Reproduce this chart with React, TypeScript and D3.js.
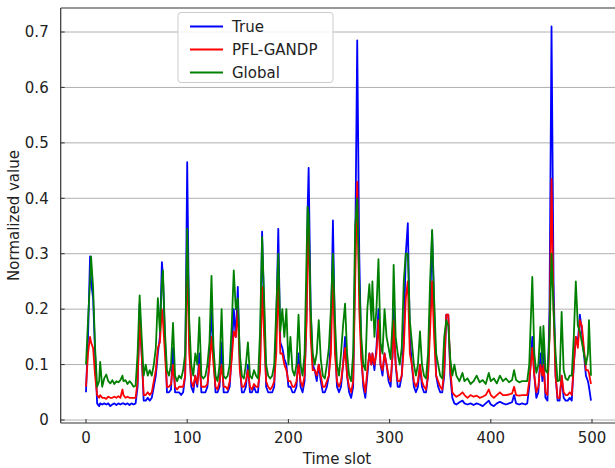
import React from 'react';
import * as d3 from 'd3';

const slots = [
  0, 2, 4, 5, 7, 9, 11, 13, 14, 16,
  18, 20, 22, 24, 26, 28, 30, 32, 34, 36,
  37, 39, 41, 43, 45, 47, 49, 51, 53, 55,
  57, 59, 61, 63, 65, 67, 69, 71, 73, 75,
  76, 78, 80, 82, 84, 86, 88, 90, 92, 94,
  96, 98, 100, 102, 104, 106, 108, 110, 112, 114,
  116, 118, 120, 122, 124, 126, 128, 130, 132, 134,
  136, 138, 140, 142, 144, 146, 148, 150, 152, 154,
  156, 158, 160, 162, 164, 166, 168, 170, 172, 174,
  176, 178, 180, 182, 184, 186, 188, 190, 192, 194,
  196, 198, 200, 202, 204, 206, 208, 210, 212, 214,
  216, 218, 219, 220, 222, 224, 226, 228, 230, 232,
  234, 236, 238, 240, 242, 244, 246, 248, 250, 252,
  254, 256, 258, 260, 262, 264, 266, 268, 270, 272,
  274, 276, 278, 280, 282, 283, 285, 287, 289, 291,
  293, 295, 297, 299, 301, 303, 304, 306, 308, 310,
  312, 314, 316, 318, 320, 322, 324, 326, 328, 330,
  332, 334, 336, 338, 340, 342, 344, 346, 348, 350,
  352, 354, 356, 358, 360, 362, 364, 366, 369, 372,
  374, 377, 380, 383, 386, 389, 392, 395, 398, 400,
  403, 406, 409, 412, 415, 418, 421, 423, 425, 428,
  431, 434, 436, 438, 441, 443, 445, 447, 449, 451,
  452, 454, 456, 458, 460, 462, 464, 466, 468, 470,
  472, 474, 476, 478, 480, 482, 484, 486, 488, 490,
  492, 494, 496, 497, 499,
];

const trueVals = [
  .05, .15, .295, .25, .22, .12, .03, .025, .03, .028,
  .03, .028, .03, .025, .028, .03, .027, .03, .028, .03,
  .03, .028, .03, .027, .03, .028, .03, .06, .21, .12,
  .035, .035, .04, .035, .04, .06, .08, .12, .15, .285,
  .26, .15, .05, .05, .055, .13, .05, .05, .05, .045,
  .05, .08, .465, .15, .06, .05, .08, .06, .12, .05,
  .05, .05, .06, .11, .2, .12, .05, .05, .06, .14,
  .05, .05, .05, .06, .12, .2, .15, .24, .1, .05,
  .05, .06, .1, .05, .05, .06, .05, .05, .1, .34,
  .2, .06, .05, .05, .05, .06, .17, .345, .14, .13,
  .11, .1, .06, .06, .05, .05, .06, .12, .06, .05,
  .07, .2, .38, .455, .2, .1, .09, .07, .1, .07,
  .05, .05, .06, .08, .15, .36, .15, .06, .05, .06,
  .1, .15, .08, .05, .04, .06, .3, .685, .3, .12,
  .06, .04, .08, .12, .1, .12, .09, .13, .2, .1,
  .08, .12, .1, .07, .06, .12, .2, .1, .06, .06,
  .08, .15, .3, .355, .15, .1, .06, .05, .06, .1,
  .06, .05, .05, .08, .2, .34, .2, .08, .06, .05,
  .05, .08, .19, .19, .08, .04, .03, .028, .032, .035,
  .03, .028, .03, .027, .03, .028, .025, .03, .035, .028,
  .025, .03, .033, .03, .028, .03, .032, .045, .03, .028,
  .03, .028, .03, .06, .15, .08, .04, .05, .12, .07,
  .12, .04, .035, .2, .71, .25, .08, .035, .035, .08,
  .04, .035, .035, .04, .035, .1, .15, .14, .19, .16,
  .12, .08, .07, .06, .035,
];

const pflVals = [
  .06, .12, .15, .14, .13, .08, .045, .04, .045, .04,
  .04, .038, .042, .04, .04, .042, .04, .043, .04, .055,
  .045, .04, .042, .04, .04, .04, .04, .07, .18, .12,
  .045, .045, .05, .045, .05, .07, .09, .13, .14, .2,
  .18, .12, .06, .06, .065, .1, .06, .055, .06, .06,
  .06, .08, .3, .12, .07, .06, .08, .065, .1, .06,
  .06, .06, .065, .1, .15, .1, .06, .055, .07, .1,
  .06, .06, .055, .07, .11, .16, .15, .2, .09, .06,
  .06, .07, .09, .06, .055, .065, .06, .06, .09, .24,
  .15, .07, .06, .055, .06, .07, .12, .25, .12, .12,
  .1, .09, .07, .07, .06, .06, .07, .1, .07, .06,
  .08, .18, .3, .35, .15, .09, .09, .08, .1, .08,
  .06, .06, .07, .08, .12, .27, .12, .07, .06, .07,
  .1, .13, .08, .06, .05, .07, .25, .43, .2, .11,
  .07, .05, .09, .12, .1, .12, .1, .12, .18, .1,
  .09, .12, .1, .08, .07, .12, .18, .1, .07, .07,
  .08, .13, .22, .25, .12, .1, .07, .06, .07, .1,
  .07, .06, .055, .08, .16, .25, .15, .08, .07, .06,
  .055, .09, .19, .19, .09, .05, .045, .042, .045, .05,
  .045, .04, .045, .042, .044, .04, .042, .045, .055, .045,
  .04, .045, .05, .045, .045, .046, .048, .06, .045, .044,
  .045, .045, .045, .07, .13, .08, .05, .06, .1, .08,
  .1, .05, .045, .15, .435, .2, .08, .04, .04, .08,
  .05, .045, .045, .05, .045, .1, .15, .13, .18, .17,
  .13, .09, .09, .085, .065,
];

const globalVals = [
  .1, .18, .25, .295, .24, .13, .06, .07, .105, .06,
  .075, .082, .07, .066, .072, .065, .07, .068, .072, .08,
  .07, .072, .065, .07, .066, .06, .062, .12, .225, .15,
  .08, .1, .08, .09, .08, .1, .13, .22, .16, .25,
  .27, .16, .09, .08, .1, .175, .08, .07, .08, .075,
  .09, .12, .345, .18, .1, .08, .12, .1, .185, .08,
  .075, .08, .1, .14, .26, .13, .08, .07, .1, .2,
  .08, .075, .08, .1, .17, .27, .2, .22, .12, .08,
  .075, .1, .14, .08, .075, .09, .08, .075, .16, .33,
  .22, .1, .08, .075, .08, .1, .2, .3, .16, .2,
  .15, .2, .1, .15, .09, .08, .1, .19, .1, .08,
  .12, .3, .385, .37, .2, .12, .1, .12, .18, .11,
  .08, .075, .1, .13, .2, .3, .18, .1, .08, .12,
  .17, .21, .12, .08, .07, .12, .35, .4, .25, .15,
  .1, .09, .2, .245, .18, .25, .15, .2, .29, .14,
  .12, .2, .15, .13, .11, .18, .28, .15, .12, .1,
  .13, .25, .3, .3, .18, .14, .1, .08, .1, .16,
  .1, .08, .075, .12, .25, .343, .22, .12, .1, .08,
  .075, .15, .18, .17, .11, .08, .1, .08, .07, .085,
  .07, .075, .065, .07, .08, .068, .072, .065, .085, .07,
  .075, .066, .08, .07, .075, .068, .072, .09, .072, .068,
  .07, .07, .07, .1, .258, .12, .085, .1, .168, .1,
  .17, .09, .085, .15, .3, .2, .12, .07, .072, .195,
  .09, .075, .072, .08, .08, .15, .25, .17, .16, .14,
  .12, .1, .12, .18, .08,
];

const seriesNames = ['True', 'PFL-GANDP', 'Global'];
const seriesColors = ['#0000ff', '#ff0000', '#008000'];
const xTicks = [0, 100, 200, 300, 400, 500];
const yTicks = [0, 0.1, 0.2, 0.3, 0.4, 0.5, 0.6, 0.7];

const width = 615;
const height = 468;
const plot = { left: 60.7, top: 8, right: 617.3, bottom: 423 };
const font = '"DejaVu Sans", sans-serif';

const App = () => {
  const x = d3.scaleLinear().domain([-25, 525]).range([plot.left, plot.right]);
  const y = d3.scaleLinear().domain([-0.0054, 0.7433]).range([plot.bottom, plot.top]);

  const series = [trueVals, pflVals, globalVals];
  const line = d3
    .line<number>()
    .x((_, i) => x(slots[i]))
    .y(d => y(d));

  const lx = 178;
  const ly = 12.5;

  return (
    <svg
      width={width}
      height={height}
      style={{ position: 'absolute', left: 0, top: 0, background: '#fff' }}
      fontFamily={font}
    >
      <defs>
        <clipPath id="plot-clip">
          <rect x={plot.left} y={plot.top} width={plot.right - plot.left} height={plot.bottom - plot.top} />
        </clipPath>
      </defs>

      {/* horizontal grid */}
      {yTicks.map(t => (
        <line key={'g' + t} x1={plot.left} x2={plot.right} y1={y(t)} y2={y(t)} stroke="#b0b0b0" strokeWidth={1} />
      ))}

      {/* series, green on top */}
      <g clipPath="url(#plot-clip)">
        {series.map((vals, i) => (
          <path
            key={seriesNames[i]}
            d={line(vals) ?? ''}
            fill="none"
            stroke={seriesColors[i]}
            strokeWidth={1.8}
            strokeLinejoin="round"
          />
        ))}
      </g>

      {/* frame */}
      <line x1={plot.left} x2={plot.right} y1={plot.top} y2={plot.top} stroke="#333" strokeWidth={1.2} />
      <line x1={plot.left} x2={plot.left} y1={plot.top} y2={plot.bottom} stroke="#333" strokeWidth={1.2} />
      <line x1={plot.left} x2={plot.right} y1={plot.bottom} y2={plot.bottom} stroke="#333" strokeWidth={1.2} />

      {/* y ticks */}
      {yTicks.map(t => (
        <g key={'y' + t}>
          <line x1={plot.left} x2={plot.left + 4} y1={y(t)} y2={y(t)} stroke="#333" />
          <text x={plot.left - 12} y={y(t)} dy="0.35em" textAnchor="end" fontSize={15} fill="#222">
            {t === 0 ? '0' : d3.format('.1f')(t)}
          </text>
        </g>
      ))}

      {/* x ticks */}
      {xTicks.map(t => (
        <g key={'x' + t}>
          <line x1={x(t)} x2={x(t)} y1={plot.bottom} y2={plot.bottom - 4} stroke="#333" />
          <text x={x(t)} y={443} textAnchor="middle" fontSize={15} fill="#222">
            {t}
          </text>
        </g>
      ))}

      {/* axis labels */}
      <text x={337} y={464} textAnchor="middle" fontSize={15} fill="#222">
        Time slot
      </text>
      <text
        transform={`translate(19, ${(plot.top + plot.bottom) / 2}) rotate(-90)`}
        textAnchor="middle"
        fontSize={15}
        fill="#222"
      >
        Normalized value
      </text>

      {/* legend */}
      <rect x={lx} y={ly} width={155} height={70} rx={3} fill="#fff" fillOpacity={0.85} stroke="#ccc" />
      {seriesNames.map((name, i) => {
        const cy = ly + 14 + i * 23;
        return (
          <g key={'l' + name}>
            <line x1={lx + 12} x2={lx + 45} y1={cy} y2={cy} stroke={seriesColors[i]} strokeWidth={2} />
            <text x={lx + 54} y={cy} dy="0.35em" fontSize={15} fill="#222">
              {name}
            </text>
          </g>
        );
      })}
    </svg>
  );
};

export default App;
